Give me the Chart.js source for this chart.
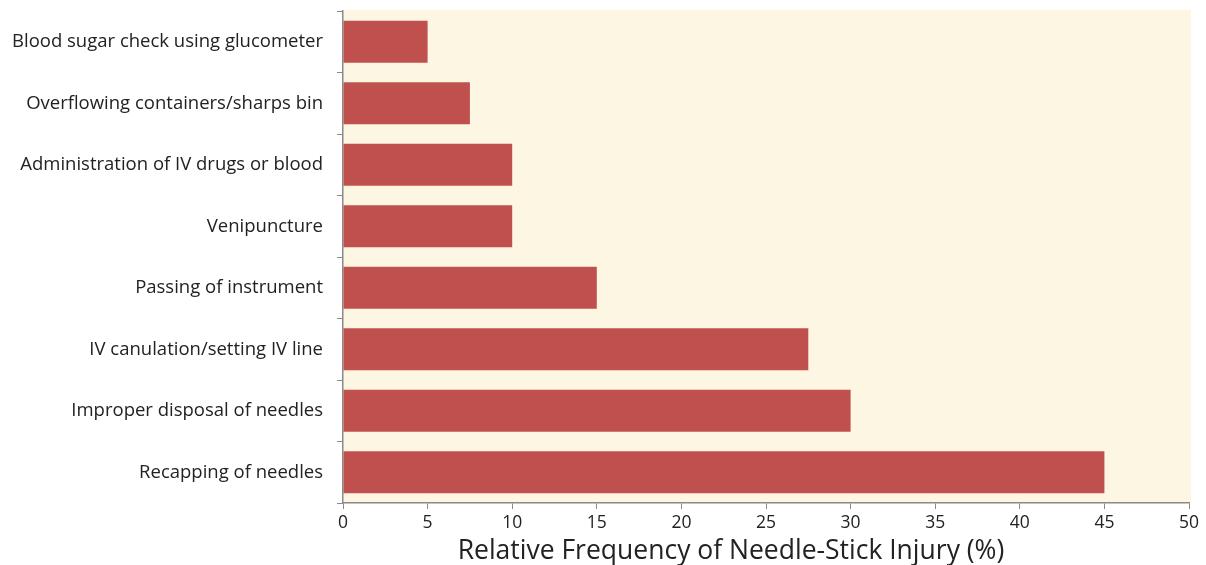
<!DOCTYPE html>
<html lang="en">
<head>
    <meta charset="UTF-8">
    <title>Needle-stick injury</title>
    <script src="https://cdn.jsdelivr.net/npm/chart.js@4.4.0/dist/chart.umd.min.js"></script>
    <style>
        body { margin: 0; background: #fff; }
        #wrap { width: 1206px; height: 565px; }
    </style>
</head>
<body>
<div id="wrap"><canvas id="chart"></canvas></div>
<script>
    const causes = [
        'Blood sugar check using glucometer',
        'Overflowing containers/sharps bin',
        'Administration of IV drugs or blood',
        'Venipuncture',
        'Passing of instrument',
        'IV canulation/setting IV line',
        'Improper disposal of needles',
        'Recapping of needles'
    ];
    const frequency = [5, 7.5, 10, 10, 15, 27.5, 30, 45];
    const xTicks = [0, 5, 10, 15, 20, 25, 30, 35, 40, 45, 50];
    const xTitle = 'Relative Frequency of Needle-Stick Injury (%)';

    // cream fill behind the plot, and the axis title (sits a bit left of centre in the original)
    const plotBg = {
        id: 'plotBg',
        beforeDraw(chart) {
            const a = chart.chartArea, c = chart.ctx;
            c.save();
            c.fillStyle = '#fdf6e2';
            c.fillRect(a.left, a.top - 1, a.right - a.left + 2, a.bottom - a.top + 1);
            c.restore();
        },
        afterDraw(chart) {
            const c = chart.ctx;
            c.save();
            c.fillStyle = '#222';
            c.font = '26.5px "Open Sans"';
            c.textAlign = 'center';
            c.textBaseline = 'middle';
            c.fillText(xTitle, 731, 551);
            c.restore();
        }
    };

    const ctx = document.getElementById('chart').getContext('2d');
    new Chart(ctx, {
        type: 'bar',
        data: {
            labels: causes,
            datasets: [{
                data: frequency,
                backgroundColor: '#c0504d',
                categoryPercentage: 1,
                barPercentage: 0.68
            }]
        },
        plugins: [plotBg],
        options: {
            indexAxis: 'y',
            responsive: true,
            maintainAspectRatio: false,
            animation: false,
            layout: { padding: { top: 11, right: 17, left: 0, bottom: 0 } },
            plugins: { legend: { display: false }, tooltip: { enabled: false } },
            scales: {
                x: {
                    min: 0, max: 50,
                    afterBuildTicks: s => { s.ticks = xTicks.map(v => ({ value: v })); },
                    border: { color: '#8a8a8a', width: 1.5 },
                    grid: { drawOnChartArea: false, drawTicks: true, tickLength: 6, color: '#8a8a8a' },
                    ticks: { color: '#222', font: { family: 'Open Sans', size: 17.5 }, padding: 4, maxRotation: 0 },
                    afterFit: s => { s.height = 62; s.paddingLeft = 0; s.paddingRight = 0; }
                },
                y: {
                    offset: true,
                    border: { color: '#8a8a8a', width: 1.5 },
                    grid: { offset: true, drawOnChartArea: false, drawTicks: true, tickLength: 6, color: '#8a8a8a' },
                    ticks: { color: '#222', font: { family: 'Open Sans', size: 18.5 }, padding: 14 },
                    afterFit: s => { s.width = 343; s.paddingTop = 0; s.paddingBottom = 0; }
                }
            }
        }
    });
</script>
</body>
</html>
